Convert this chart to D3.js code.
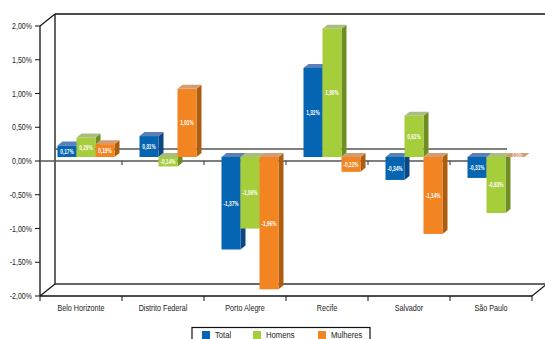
<!DOCTYPE html>
<html><head><meta charset="utf-8">
<script src="https://cdn.jsdelivr.net/npm/d3@7"></script>
<style>
body{margin:0;background:#fff}
svg{display:block}
text{font-family:"Liberation Sans",Arial,sans-serif}
</style></head>
<body><svg id="c" width="545" height="339"></svg>
<script>
const categories = ["Belo Horizonte","Distrito Federal","Porto Alegre","Recife","Salvador","São Paulo"];
const seriesNames = ["Total","Homens","Mulheres"];
const total    = [0.17, 0.31, -1.37, 1.32, -0.34, -0.31];
const homens   = [0.29, -0.14, -1.06, 1.90, 0.61, -0.83];
const mulheres = [0.19, 1.01, -1.96, -0.22, -1.14, 0.00];
const yTicks = [2, 1.5, 1, 0.5, 0, -0.5, -1, -1.5, -2];

const colors = [
  {front:"#0565b2", top:"#5b80b8", side:"#0c4683"},
  {front:"#a6cd3a", top:"#a9bd7f", side:"#6e8d23"},
  {front:"#f28521", top:"#d49c70", side:"#ad5d10"}
];
const values = [total, homens, mulheres];

const svg = d3.select("#c");
const fmt = v => (v<0?"-":"") + Math.abs(v).toFixed(2).replace(".", ",") + "%";

function addText(parent, xx, yy, str, size, anchor, sx, opts){
  opts = opts || {};
  const t = parent.append("g").attr("transform",`translate(${xx},${yy}) scale(${sx},1)`)
    .append("text").attr("x",0).attr("y",0).attr("text-anchor",anchor)
    .attr("font-size",size).attr("fill",opts.fill||"#222").text(str);
  if(opts.middle!==false) t.attr("dy","0.35em");
  if(opts.bold) t.attr("font-weight","bold");
  return t;
}

const x = d3.scaleBand().domain(categories).range([40,532]).padding(0);
const xs = d3.scaleBand().domain(seriesNames).range([12.5,69.5]).padding(0);
const y = d3.scaleLinear().domain([-2,2]).range([296,26]);
const DX = 15, DY = -12; // full depth
const bx = DX/3, by = DY/3; // bar front depth offset
const bdx = DX/3, bdy = DY/3; // bar depth

const g = svg.append("g");
const x0 = 40, x1 = 532;
const yTop = y(2), yBot = y(-2), yZero = y(0);
const line = (a,b,c,d,col,w) => g.append("line").attr("x1",a).attr("y1",b).attr("x2",c).attr("y2",d)
  .attr("stroke",col||"#111").attr("stroke-width",w||1.2);

// back wall & floor
line(x0+DX, yTop+DY, 545, yTop+DY, "#111", 1.3);
line(x0, yTop, x0+DX, yTop+DY, "#111", 1.2);
line(x0+DX, yTop+DY, x0+DX, yBot+DY, "#111", 1.3);
line(x0+DX, yBot+DY, 545, yBot+DY, "#333", 1.3);
line(x0, yBot, x0+DX, yBot+DY, "#111", 1.2);
line(x1, yBot, x1+DX, yBot+DY, "#111", 1.2);
line(x0, yBot, x1, yBot, "#111", 1.3);
line(x0, yTop, x0, yBot, "#111", 1.3);
// zero plane
line(x0+DX, yZero+DY, 492+DX, yZero+DY, "#555", 1.3);
line(x0, yZero, 492, yZero, "#555", 1.3);

// y axis ticks & labels
yTicks.forEach(t=>{
  line(35, y(t), x0, y(t), "#111", 1);
  addText(g, 32, y(t), fmt(t), 9, "end", 0.78);
});
// category ticks
categories.forEach((c,i)=>{
  const xx = x(c);
  line(xx, yBot, xx, yBot+5, "#111", 1);
  if(i>0) line(xx, yZero, xx, yZero+4, "#333", 1);
  addText(g, xx+x.bandwidth()/2, yBot+12, c, 9, "middle", 0.8);
});
line(x1, yBot, x1, yBot+5, "#111", 1);

// bars
const yb = v => y(v) + by; // bar front plane
categories.forEach((c,ci)=>{
  seriesNames.forEach((s,si)=>{
    const v = values[si][ci];
    const col = colors[si];
    const xl = x(c) + xs(s) + bx, w = xs.bandwidth();
    const yt = yb(Math.max(v,0)), ybt = yb(Math.min(v,0));
    const bg = svg.append("g");
    bg.append("path").attr("fill",col.side)
      .attr("d",`M${xl+w},${yt}L${xl+w+bdx},${yt+bdy}L${xl+w+bdx},${ybt+bdy}L${xl+w},${ybt}Z`);
    bg.append("path").attr("fill",col.top)
      .attr("d",`M${xl},${yt}L${xl+bdx},${yt+bdy}L${xl+w+bdx},${yt+bdy}L${xl+w},${yt}Z`);
    if(ybt-yt>0.5) bg.append("rect").attr("x",xl).attr("y",yt).attr("width",w).attr("height",ybt-yt).attr("fill",col.front);
    if(v===0){
      addText(bg, xl+w/2+bdx/2, yt+bdy/2, fmt(v), 5, "middle", 0.7, {fill:"#fff"});
    } else {
      addText(bg, xl+w/2, (yt+ybt)/2, fmt(v), 7, "middle", 0.68, {fill:"#fff", bold:true});
    }
  });
});

// legend
const lg = svg.append("g");
lg.append("rect").attr("x",192).attr("y",327.5).attr("width",178).attr("height",20)
  .attr("fill","#fff").attr("stroke","#111").attr("stroke-width",1.2);
const lx = [202, 253, 318];
seriesNames.forEach((s,i)=>{
  lg.append("rect").attr("x",lx[i]).attr("y",331).attr("width",8).attr("height",9).attr("fill",colors[i].front);
  addText(lg, lx[i]+13, 338, s, 9, "start", 0.85, {middle:false});
});
</script></body></html>
